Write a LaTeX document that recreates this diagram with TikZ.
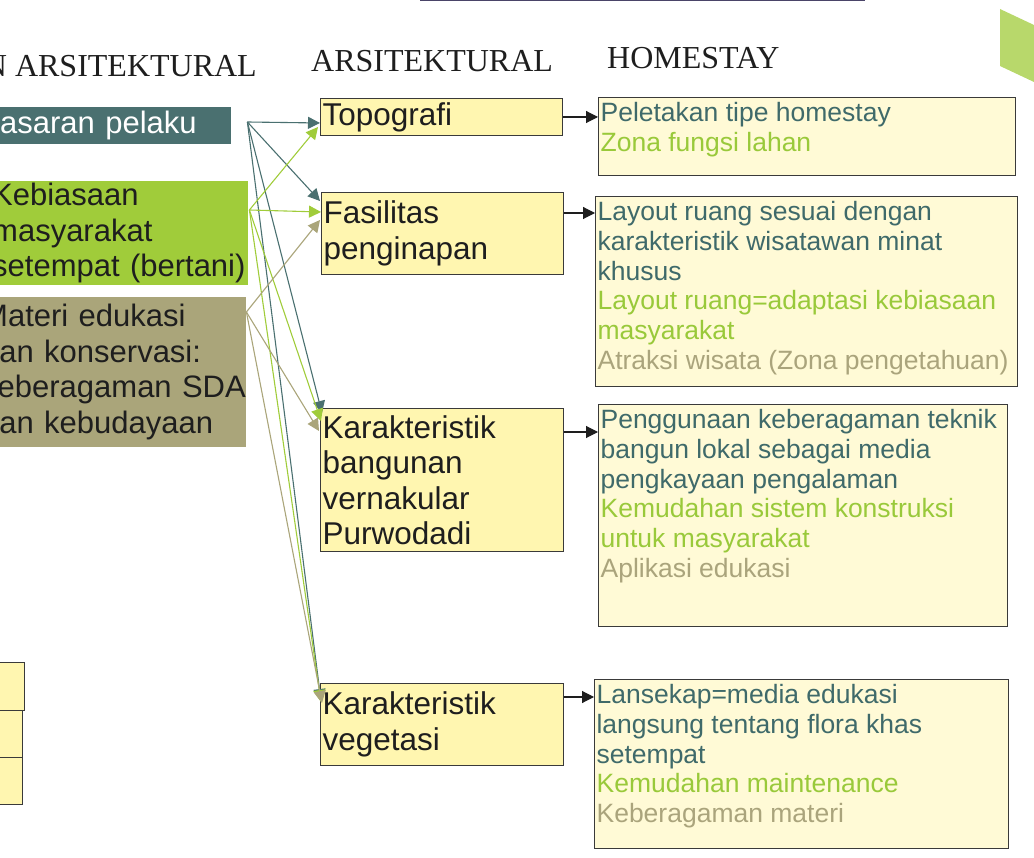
\documentclass[tikz,border=0pt]{standalone}
\usepackage{fontspec}
\setmainfont{Liberation Sans}
\newfontfamily\headfont{Liberation Serif}
\usetikzlibrary{shapes}
\usetikzlibrary{arrows.meta}

\definecolor{tealbox}{RGB}{74,112,112}
\definecolor{greenbox}{RGB}{160,204,58}
\definecolor{khakibox}{RGB}{170,165,122}
\definecolor{tealtx}{RGB}{63,106,106}
\definecolor{greentx}{RGB}{153,201,58}
\definecolor{khakitx}{RGB}{170,164,124}
\definecolor{midfill}{RGB}{255,246,176}
\definecolor{homefill}{RGB}{255,250,214}
\definecolor{boxline}{RGB}{58,58,58}
\definecolor{chevron}{RGB}{184,216,107}
\definecolor{topline}{RGB}{74,68,104}
\definecolor{ink}{RGB}{30,30,30}

\begin{document}
\begin{tikzpicture}[x=1pt,y=-1pt]
	\tikzstyle{lbox}=[rectangle, anchor=north west, inner xsep=0pt, inner ysep=1pt, align=left, text=ink, font=\fontsize{31}{35.5}\selectfont]
	\tikzstyle{mbox}=[rectangle, draw=boxline, fill=midfill, line width=1.2pt, anchor=north west, inner xsep=2pt, inner ysep=2pt, align=left, text=ink, font=\fontsize{31.5}{35.5}\selectfont]
	\tikzstyle{hbox}=[rectangle, draw=boxline, fill=homefill, line width=1.2pt, anchor=north west, inner xsep=2pt, inner ysep=5pt, font=\fontsize{26.5}{29.7}\selectfont]
	\tikzstyle{kbox}=[rectangle, draw=boxline, fill=midfill, line width=1.2pt, anchor=north west, inner sep=0pt]
	\tikzstyle{head}=[inner sep=0pt, text=ink, font=\headfont\fontsize{32}{38}\selectfont]
	\tikzstyle{tline}=[draw=tealbox, line width=1.1pt, -{Triangle[length=12pt,width=12pt]}]
	\tikzstyle{gline}=[draw=greenbox, line width=1.1pt, -{Triangle[length=12pt,width=12pt]}]
	\tikzstyle{kline}=[draw=khakibox, line width=1.1pt, -{Triangle[length=12pt,width=12pt]}]
	\tikzstyle{harrow}=[draw=ink, line width=1.1pt, -{Triangle[length=12pt,width=12pt]}]

	\useasboundingbox (0,0) rectangle (1034,858);
	\clip (0,0) rectangle (1034,858);

	\draw[topline, line width=1.5pt] (420,0.75) -- (865,0.75);
	\fill[chevron] (1000,9) -- (1034,25) -- (1034,82) -- (1000,66) -- cycle;

	\node[head, anchor=base east] (kolom1) at (257,77) {N ARSITEKTURAL};
	\node[head, anchor=base west] (kolom2) at (311,72) {ARSITEKTURAL};
	\node[head, anchor=base west] (kolom3) at (607,69) {HOMESTAY};

	\node[lbox, fill=tealbox, text=white, text width=231pt, minimum height=37pt] (pelaku) at (0,107) {asaran pelaku};
	\node[lbox, fill=greenbox, text width=256pt, minimum height=104pt] (kebiasaan) at (-8,181) {Kebiasaan\\masyarakat\\setempat (bertani)};
	\node[lbox, fill=khakibox, text width=264pt, minimum height=150pt] (materi) at (-18,297) {Materi edukasi\\dan konservasi:\\keberagaman SDA\\dan kebudayaan};

	\node[kbox, minimum width=29pt, minimum height=48pt] (kotak1) at (-5,662) {};
	\node[kbox, minimum width=27pt, minimum height=47pt] (kotak2) at (-5,710) {};
	\node[kbox, minimum width=27pt, minimum height=47pt] (kotak3) at (-5,757) {};

	\node[mbox, text width=238pt, minimum height=37pt] (topografi) at (320,98) {Topografi};
	\node[mbox, text width=238pt, minimum height=82pt] (fasilitas) at (321,192) {Fasilitas\\penginapan};
	\node[mbox, text width=239pt, minimum height=143pt] (bangunan) at (320,408) {Karakteristik\\bangunan\\vernakular\\Purwodadi};
	\node[mbox, text width=239pt, minimum height=82pt] (vegetasi) at (320,683) {Karakteristik\\vegetasi};

	\node[hbox] (home1) at (598,97) {\parbox[t][68pt][t]{413pt}{\raggedright
		\color{tealtx}Peletakan tipe homestay\\
		\color{greentx}Zona fungsi lahan}};
	\node[hbox] (home2) at (595,196) {\parbox[t][180pt][t]{418pt}{\raggedright
		\color{tealtx}Layout ruang sesuai dengan\\karakteristik wisatawan minat\\khusus\\
		\color{greentx}Layout ruang=adaptasi kebiasaan\\masyarakat\\
		\color{khakitx}Atraksi wisata (Zona pengetahuan)}};
	\node[hbox] (home3) at (598,404) {\parbox[t][212pt][t]{405pt}{\raggedright
		\color{tealtx}Penggunaan keberagaman teknik\\bangun lokal sebagai media\\pengkayaan pengalaman\\
		\color{greentx}Kemudahan sistem konstruksi\\untuk masyarakat\\
		\color{khakitx}Aplikasi edukasi}};
	\node[hbox] (home4) at (594,679) {\parbox[t][159pt][t]{410pt}{\raggedright
		\color{tealtx}Lansekap=media edukasi\\langsung tentang flora khas\\setempat\\
		\color{greentx}Kemudahan maintenance\\
		\color{khakitx}Keberagaman materi}};

	\coordinate (tout) at ([shift={(16,15)}]pelaku.north east);
	\coordinate (gout) at ([shift={(1,29)}]kebiasaan.north east);
	\coordinate (kout) at ([shift={(0,15)}]materi.north east);

	\draw[tline] (tout) -- ([shift={(0,25)}]topografi.north west);
	\draw[tline] (tout) -- ([shift={(-1,9)}]fasilitas.north west);
	\draw[tline] (tout) -- ([shift={(2,5)}]bangunan.north west);
	\draw[tline] (tout) -- ([shift={(1,18)}]vegetasi.north west);

	\draw[gline] (gout) -- ([shift={(-2,29)}]topografi.north west);
	\draw[gline] (gout) -- ([shift={(0,20)}]fasilitas.north west);
	\draw[gline] (gout) -- ([shift={(1,13)}]bangunan.north west);
	\draw[gline] (gout) -- ([shift={(1,19)}]vegetasi.north west);

	\draw[kline] (kout) -- ([shift={(-1,28)}]fasilitas.north west);
	\draw[kline] (kout) -- ([shift={(-1,23)}]bangunan.north west);
	\draw[kline] (kout) -- ([shift={(2,20)}]vegetasi.north west);

	\path ([shift={(0,20)}]home1.north west) coordinate (tip1);
	\path ([shift={(0,17)}]home2.north west) coordinate (tip2);
	\path ([shift={(0,28)}]home3.north west) coordinate (tip3);
	\path ([shift={(0,18)}]home4.north west) coordinate (tip4);
	\draw[harrow] (topografi.east |- tip1) -- (tip1);
	\draw[harrow] (fasilitas.east |- tip2) -- (tip2);
	\draw[harrow] (bangunan.east |- tip3) -- (tip3);
	\draw[harrow] (vegetasi.east |- tip4) -- (tip4);
\end{tikzpicture}
\end{document}
